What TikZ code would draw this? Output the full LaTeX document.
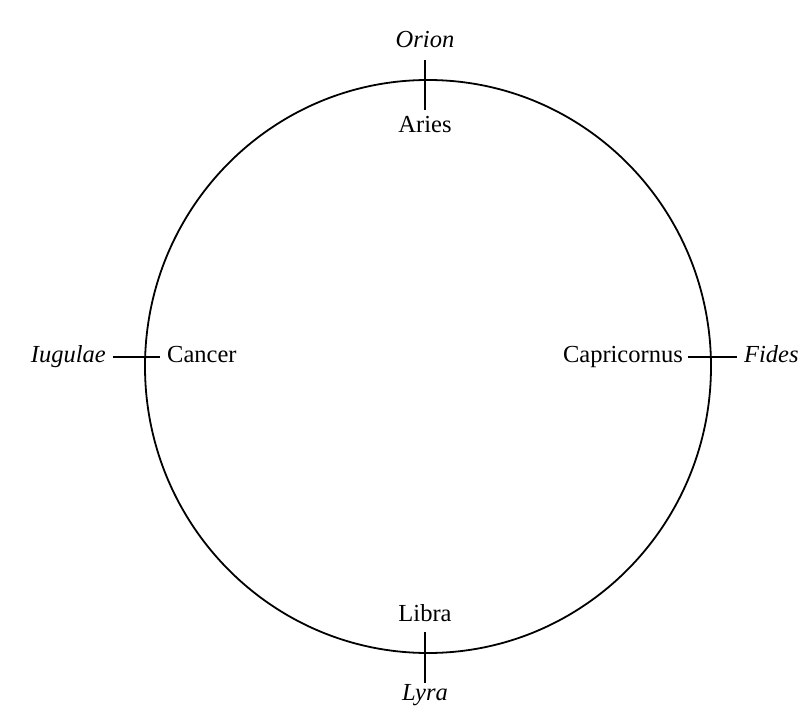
\documentclass[tikz,border=0pt]{standalone}
\usepackage{fontspec}
\setmainfont{Liberation Serif}
\begin{document}
\begin{tikzpicture}[x=1pt,y=-1pt,
  lbl/.style={inner sep=0pt,font=\fontsize{24.5}{28}\selectfont},
  ital/.style={lbl,font=\fontsize{24.5}{28}\selectfont\itshape},
  tick/.style={line width=1.4pt},
  ring/.style={line width=1.8pt}]
\useasboundingbox (0,0) rectangle (807,714);
\draw[ring] (428,366.5) ellipse [x radius=283, y radius=286.5];
% labels
\node[ital,anchor=base] (orion) at (425,48) {Orion};
\node[lbl,anchor=base] (aries) at (425,133) {Aries};
\node[lbl,anchor=base] (libra) at (425,621) {Libra};
\node[ital,anchor=base] (lyra) at (425,700) {Lyra};
\node[ital,anchor=base east] (iugulae) at (106,363) {Iugulae};
\node[lbl,anchor=base west] (cancer) at (167,363) {Cancer};
\node[lbl,anchor=base east] (capri) at (683,363) {Capricornus};
\node[ital,anchor=base west] (fides) at (744,363) {Fides};
% ticks
\coordinate (t1) at (425,60);
\coordinate (t2) at (425,110);
\coordinate (b1) at (425,632);
\coordinate (b2) at (425,683);
\coordinate (l1) at (113,357);
\coordinate (l2) at (160,357);
\coordinate (r1) at (688,357);
\coordinate (r2) at (737,357);
\draw[tick] (t1) -- (t2);
\draw[tick] (b1) -- (b2);
\draw[tick] (l1) -- (l2);
\draw[tick] (r1) -- (r2);
\end{tikzpicture}
\end{document}
